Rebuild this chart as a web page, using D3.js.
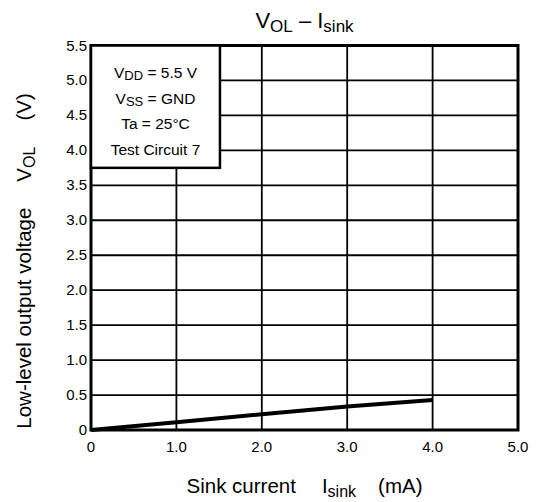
<!DOCTYPE html>
<html>
<head>
<meta charset="utf-8">
<script src="https://cdn.jsdelivr.net/npm/d3@7"></script>
<style>
  body { margin: 0; background: #fff; }
  text { font-family: "Liberation Sans", Arial, sans-serif; fill: #000; }
</style>
</head>
<body>
<div id="chart"></div>
<script>
// data
const sinkCurrent = [0, 1.0, 2.0, 3.0, 4.0];
const vol = [0, 0.11, 0.225, 0.335, 0.43];
const xTicks = [0, 1, 2, 3, 4, 5];
const xTickLabels = ["0", "1.0", "2.0", "3.0", "4.0", "5.0"];
const yTicks = [0, 0.5, 1, 1.5, 2, 2.5, 3, 3.5, 4, 4.5, 5, 5.5];
const yTickLabels = ["0", "0.5", "1.0", "1.5", "2.0", "2.5", "3.0", "3.5", "4.0", "4.5", "5.0", "5.5"];
const conditions = [
  ["V", "DD", " = 5.5 V"],
  ["V", "SS", " = GND"],
  ["Ta = 25°C", "", ""],
  ["Test Circuit 7", "", ""]
];

const width = 537, height = 502;
const margin = {top: 45.5, right: 19, bottom: 72, left: 91};

const svg = d3.select('#chart').append('svg')
    .attr('width', width)
    .attr('height', height);

const x = d3.scaleLinear().domain([0, 5]).range([margin.left, width - margin.right]);
const y = d3.scaleLinear().domain([0, 5.5]).range([height - margin.bottom, margin.top]);

// grid
svg.append('g')
    .selectAll('line.v')
    .data(xTicks.slice(1, -1))
    .join('line')
    .attr('x1', d => x(d)).attr('x2', d => x(d))
    .attr('y1', y(0)).attr('y2', y(5.5))
    .attr('stroke', '#000').attr('stroke-width', 1.8);
svg.append('g')
    .selectAll('line.h')
    .data(yTicks.slice(1, -1))
    .join('line')
    .attr('x1', x(0)).attr('x2', x(5))
    .attr('y1', d => y(d)).attr('y2', d => y(d))
    .attr('stroke', '#000').attr('stroke-width', 1.8);

// curve
const line = d3.line().x(d => x(d[0])).y(d => y(d[1]));
svg.append('path')
    .datum(d3.zip(sinkCurrent, vol))
    .attr('d', line)
    .attr('fill', 'none')
    .attr('stroke', '#000')
    .attr('stroke-width', 4);

// frame
svg.append('rect')
    .attr('x', x(0)).attr('y', y(5.5))
    .attr('width', x(5) - x(0)).attr('height', y(0) - y(5.5))
    .attr('fill', 'none').attr('stroke', '#000').attr('stroke-width', 3);

// conditions box
const box = svg.append('g');
box.append('rect')
    .attr('x', x(0)).attr('y', y(5.5))
    .attr('width', x(1.51) - x(0)).attr('height', y(3.75) - y(5.5))
    .attr('fill', '#fff').attr('stroke', '#000').attr('stroke-width', 2.5);
const boxCx = (x(0) + x(1.51)) / 2;
conditions.forEach((c, i) => {
  const t = box.append('text')
      .attr('x', boxCx)
      .attr('y', 78 + i * 25.5)
      .attr('text-anchor', 'middle')
      .attr('font-size', '15.5px');
  t.append('tspan').text(c[0]);
  if (c[1]) {
    t.append('tspan').attr('font-size', '13px').attr('dy', 2).text(c[1]);
    t.append('tspan').attr('dy', -2).text(c[2]);
  }
});

// tick labels
svg.append('g')
    .selectAll('text')
    .data(xTicks)
    .join('text')
    .attr('x', d => x(d))
    .attr('y', y(0) + 22)
    .attr('text-anchor', 'middle')
    .attr('font-size', '15px')
    .text((d, i) => xTickLabels[i]);
svg.append('g')
    .selectAll('text')
    .data(yTicks)
    .join('text')
    .attr('x', x(0) - 4)
    .attr('y', d => y(d) + 5)
    .attr('text-anchor', 'end')
    .attr('font-size', '15px')
    .text((d, i) => yTickLabels[i]);

// title
const title = svg.append('text')
    .attr('x', (x(0) + x(5)) / 2)
    .attr('y', 28)
    .attr('text-anchor', 'middle')
    .attr('font-size', '22px');
title.append('tspan').text('V');
title.append('tspan').attr('font-size', '17px').attr('dy', 4).text('OL');
title.append('tspan').attr('dy', -4).text(' – I');
title.append('tspan').attr('font-size', '17px').attr('dy', 4).text('sink');

// x axis label
const xl = svg.append('text')
    .attr('x', (x(0) + x(5)) / 2)
    .attr('y', 493)
    .attr('text-anchor', 'middle')
    .attr('font-size', '20.5px');
xl.append('tspan').text('Sink current');
xl.append('tspan').attr('dx', 26).text('I');
xl.append('tspan').attr('font-size', '16px').attr('dy', 4).text('sink');
xl.append('tspan').attr('dx', 22).attr('dy', -4).text('(mA)');

// y axis label
const yl = svg.append('text')
    .attr('transform', `translate(31, 261) rotate(-90)`)
    .attr('text-anchor', 'middle')
    .attr('font-size', '20.5px');
yl.append('tspan').text('Low-level output voltage');
yl.append('tspan').attr('dx', 26).text('V');
yl.append('tspan').attr('font-size', '16px').attr('dy', 4).text('OL');
yl.append('tspan').attr('dx', 26).attr('dy', -4).text('(V)');
</script>
</body>
</html>
